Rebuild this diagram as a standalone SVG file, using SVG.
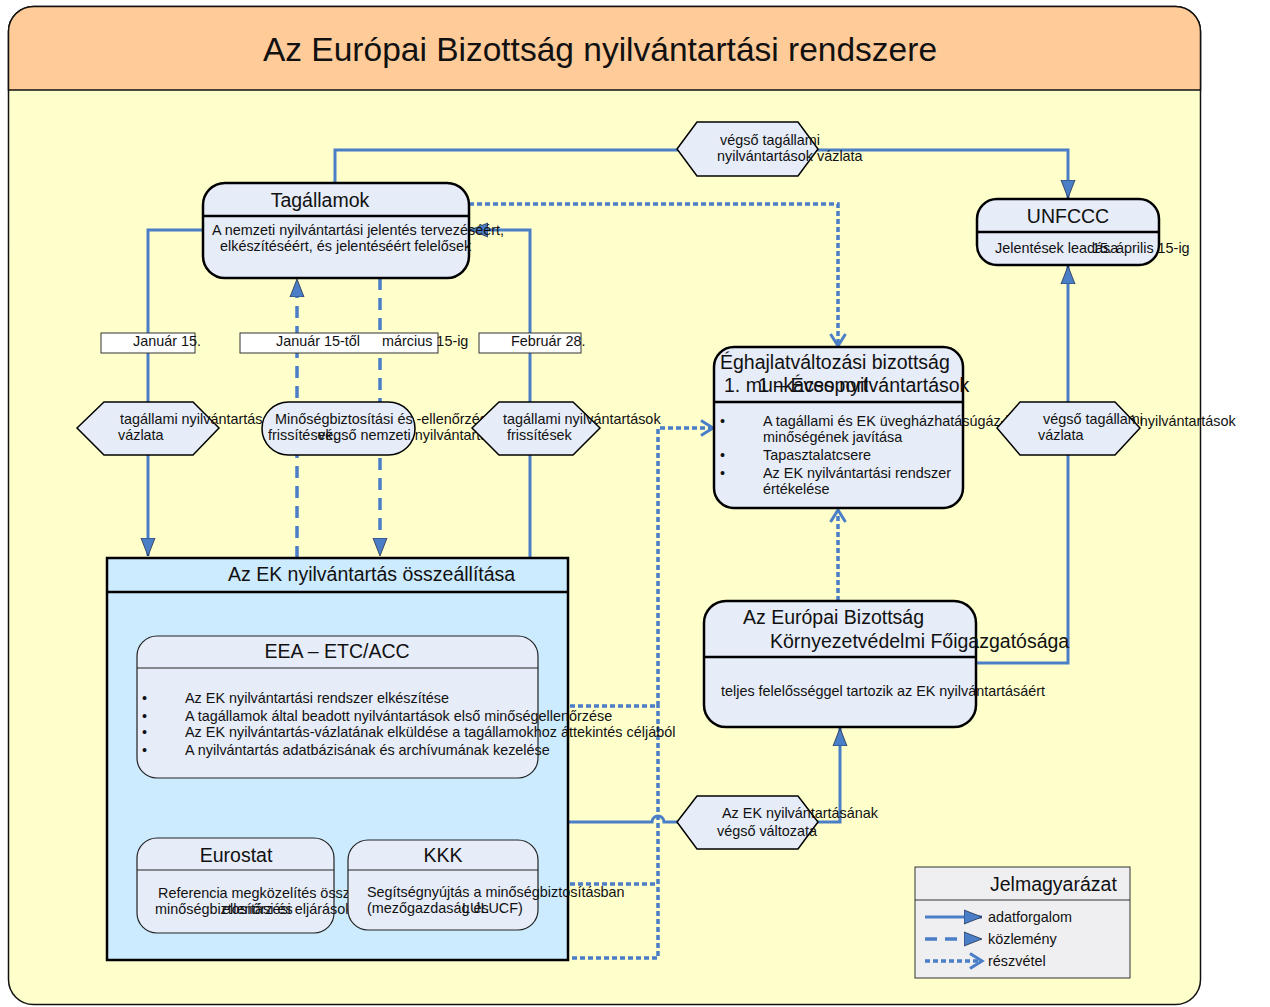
<svg xmlns="http://www.w3.org/2000/svg" width="1270" height="1007" viewBox="0 0 1270 1007">
<style>
text{font-family:"Liberation Sans",Arial,sans-serif;fill:#111}
.t13{font-size:14.4px}
.t18{font-size:19.5px}
.node{fill:#E6ECF8;stroke:#000;stroke-width:2.5}
.thin{fill:#E6ECF8;stroke:#222;stroke-width:1.2}
.div{stroke:#000;stroke-width:2.5}
.divt{stroke:#222;stroke-width:1.2}
.hex{fill:#E6ECF8;stroke:#000;stroke-width:1.5}
.lbl{fill:#fff;stroke:#333;stroke-width:1}
.solid{fill:none;stroke:#4A7EC7;stroke-width:3}
.dash{fill:none;stroke:#4A7EC7;stroke-width:3.5;stroke-dasharray:12 8}
.dot{fill:none;stroke:#4A7EC7;stroke-width:3.5;stroke-dasharray:5 3}
.bi{fill:none;stroke:#4A7EC7;stroke-width:1.8}
</style>
<defs>
<marker id="arr" markerUnits="userSpaceOnUse" markerWidth="20" markerHeight="16" refX="18" refY="8" orient="auto-start-reverse" viewBox="0 0 20 16">
<path d="M0,1 L18,8 L0,15 Z" fill="#4A7EC7" stroke="#1F3050" stroke-width="0.8"/>
</marker>
<marker id="arrs" markerUnits="userSpaceOnUse" markerWidth="18" markerHeight="14" refX="16" refY="7" orient="auto-start-reverse" viewBox="0 0 18 14">
<path d="M0,1 L16,7 L0,13 Z" fill="#4A7EC7" stroke="#1F3050" stroke-width="0.8"/>
</marker>
<marker id="chev" markerUnits="userSpaceOnUse" markerWidth="16" markerHeight="18" refX="13" refY="9" orient="auto" viewBox="0 0 16 18">
<path d="M1,1.5 L13,9 L1,16.5" fill="none" stroke="#4A7EC7" stroke-width="3"/>
</marker>
</defs>

<g id="frame">
<rect x="8.5" y="6.5" width="1192" height="998" rx="25" fill="#FFFFCC" stroke="#111" stroke-width="1.5"/>
<path d="M8.5,90 V31.5 A25,25 0 0 1 33.5,6.5 H1175.5 A25,25 0 0 1 1200.5,31.5 V90 Z" fill="#FFCB99" stroke="#111" stroke-width="1.5"/>
<text x="600" y="61" font-size="33.5" text-anchor="middle">Az Európai Bizottság nyilvántartási rendszere</text>
</g>

<g id="connectors">
<path class="solid" d="M335,183 V150 H1068 V198" marker-end="url(#arr)"/>
<path class="solid" d="M203,230 H148 V556" marker-end="url(#arr)"/>
<path class="dash" d="M297,558 V279" marker-end="url(#arr)"/>
<path class="dash" d="M380,278 V556" marker-end="url(#arr)"/>
<path class="solid" d="M530,558 V230 H470" marker-end="url(#arr)"/>
<path class="dot" d="M469,204 H838 V346" marker-end="url(#chev)"/>
<path class="dot" d="M838,601 V510" marker-end="url(#chev)"/>
<path class="dot" d="M538,706 H658 V428 H713" marker-end="url(#chev)"/>
<path class="dot" d="M237,933 V958 H658 V706"/>
<path class="dot" d="M538,884 H658"/>
<path class="solid" d="M568,822 H652 A6,6 0 0 1 664,822 H840 V728" marker-end="url(#arr)"/>
<path class="solid" d="M976,663 H1068 V266" marker-end="url(#arr)"/>
<path class="bi" d="M236,779 V837" marker-start="url(#arrs)" marker-end="url(#arrs)"/>
<path class="bi" d="M443,779 V837" marker-start="url(#arrs)" marker-end="url(#arrs)"/>
</g>

<g id="tagallamok">
<rect class="node" x="203" y="183" width="266" height="95" rx="22"/>
<line class="div" x1="203" y1="216" x2="469" y2="216"/>
<text class="t18" x="320" y="207" text-anchor="middle">Tagállamok</text>
<text class="t13" x="212" y="235">A nemzeti nyilvántartási jelentés tervezéséért,</text>
<text class="t13" x="220" y="251">elkészítéséért, és jelentéséért felelősek</text>
</g>

<g id="hex-top">
<polygon class="hex" points="677,149 697,122 798,122 818,149 798,176 697,176"/>
<text class="t13" x="720" y="145">végső tagállami</text>
<text class="t13" x="717" y="161">nyilvántartások vázlata</text>
</g>

<g id="unfccc">
<rect class="node" x="977" y="199" width="182" height="66" rx="20"/>
<line class="div" x1="977" y1="232" x2="1159" y2="232"/>
<text class="t18" x="1068" y="223" text-anchor="middle">UNFCCC</text>
<text class="t13" x="995" y="253">Jelentések leadása</text>
<text class="t13" x="1092" y="253">15. április 15-ig</text>
</g>

<g id="lbl-jan15">
<rect class="lbl" x="101" y="333" width="94" height="20"/>
<text class="t13" x="133" y="346">Január 15.</text>
</g>
<g id="lbl-jan-mar">
<rect class="lbl" x="240" y="333" width="198" height="20"/>
<text class="t13" x="276" y="346">Január 15-től</text>
<text class="t13" x="382" y="346">március 15-ig</text>
</g>
<g id="lbl-feb">
<rect class="lbl" x="479" y="333" width="102" height="20"/>
<text class="t13" x="511" y="346">Február 28.</text>
</g>

<g id="hex-left">
<polygon class="hex" points="77,428 104,402 193,402 219,428 193,455 104,455"/>
<text class="t13" x="120" y="424">tagállami nyilvántartás</text>
<text class="t13" x="118" y="440">vázlata</text>
</g>

<g id="pill-qa">
<rect class="hex" x="262" y="402" width="153" height="53" rx="26.5"/>
<text class="t13" x="275" y="424">Minőségbiztosítási és -ellenőrzési eljárások</text>
<text class="t13" x="268" y="440">frissítések,</text>
<text class="t13" x="318" y="440">végső nemzeti nyilvántartás vázlata</text>
</g>

<g id="hex-feb">
<polygon class="hex" points="472,428 499,402 573,402 600,428 573,455 499,455"/>
<text class="t13" x="503" y="424">tagállami nyilvántartások</text>
<text class="t13" x="507" y="440">frissítések</text>
</g>

<g id="eghajlat">
<rect class="node" x="714" y="347" width="249" height="161" rx="20"/>
<line class="div" x1="714" y1="402" x2="963" y2="402"/>
<text class="t18" x="720" y="369">Éghajlatváltozási bizottság</text>
<text class="t18" x="724" y="392">1. munkacsoport</text>
<text class="t18" x="758" y="392">1 – Éves nyilvántartások</text>
<text class="t13" x="720" y="426">•</text>
<text class="t13" x="763" y="426">A tagállami és EK üvegházhatásúgáz-kibocsátást kimutató nyilvántartások</text>
<text class="t13" x="763" y="442">minőségének javítása</text>
<text class="t13" x="720" y="460">•</text>
<text class="t13" x="763" y="460">Tapasztalatcsere</text>
<text class="t13" x="720" y="478">•</text>
<text class="t13" x="763" y="478">Az EK nyilvántartási rendszer</text>
<text class="t13" x="763" y="494">értékelése</text>
</g>

<g id="hex-right">
<polygon class="hex" points="997,428 1020,402 1115,402 1140,428 1115,455 1020,455"/>
<text class="t13" x="1043" y="424">végső tagállami</text>
<text class="t13" x="1038" y="440">vázlata</text>
</g>

<g id="ek-osszeallitas">
<rect x="107" y="558" width="461" height="402" fill="#CCEBFF" stroke="#000" stroke-width="2.5"/>
<line class="div" x1="107" y1="592" x2="568" y2="592"/>
<text class="t18" x="228" y="581">Az EK nyilvántartás összeállítása</text>
</g>

<g id="eea">
<rect class="thin" x="137" y="636" width="401" height="142" rx="20"/>
<line class="divt" x1="137" y1="668" x2="538" y2="668"/>
<text class="t18" x="337" y="658" text-anchor="middle">EEA – ETC/ACC</text>
<text class="t13" x="142" y="703">•</text>
<text class="t13" x="185" y="703">Az EK nyilvántartási rendszer elkészítése</text>
<text class="t13" x="142" y="721">•</text>
<text class="t13" x="185" y="721">A tagállamok által beadott  nyilvántartások első minőségellenőrzése</text>
<text class="t13" x="142" y="737">•</text>
<text class="t13" x="185" y="737">Az EK nyilvántartás-vázlatának elküldése a tagállamokhoz áttekintés céljából</text>
<text class="t13" x="142" y="755">•</text>
<text class="t13" x="185" y="755">A nyilvántartás adatbázisának és archívumának kezelése</text>
</g>

<g id="eurostat">
<rect class="thin" x="137" y="838" width="197" height="95" rx="20"/>
<line class="divt" x1="137" y1="870" x2="334" y2="870"/>
<text class="t18" x="236" y="862" text-anchor="middle">Eurostat</text>
<text class="t13" x="158" y="898">Referencia megközelítés összehasonlítása</text>
<text class="t13" x="155" y="914">minőségbiztosítási és</text>
<text class="t13" x="222" y="914">ellenőrzési eljárások</text>
</g>

<g id="kkk">
<rect class="thin" x="348" y="840" width="190" height="90" rx="20"/>
<line class="divt" x1="348" y1="870" x2="538" y2="870"/>
<text class="t18" x="443" y="862" text-anchor="middle">KKK</text>
<text class="t13" x="367" y="897">Segítségnyújtás a minőségbiztosításban</text>
<text class="t13" x="367" y="913">(mezőgazdaság és</text>
<text class="t13" x="462" y="913">LULUCF)</text>
</g>

<g id="hex-bottom">
<polygon class="hex" points="677,822 697,796 798,796 818,822 798,849 697,849"/>
<text class="t13" x="722" y="818">Az EK nyilvántartásának</text>
<text class="t13" x="717" y="836">végső változata</text>
</g>

<g id="dg-env">
<rect class="node" x="704" y="601" width="272" height="126" rx="22"/>
<line class="div" x1="704" y1="657" x2="976" y2="657"/>
<text class="t18" x="743" y="624">Az Európai Bizottság</text>
<text class="t18" x="770" y="648">Környezetvédelmi Főigazgatósága</text>
<text class="t13" x="721" y="696">teljes felelősséggel tartozik az EK nyilvántartásáért</text>
</g>

<g id="legend">
<rect x="915" y="867" width="215" height="111" fill="#EFEFF2" stroke="#333" stroke-width="1"/>
<line x1="915" y1="900" x2="1130" y2="900" stroke="#333" stroke-width="1"/>
<text class="t18" x="990" y="891">Jelmagyarázat</text>
<path class="solid" d="M925,917 H982" marker-end="url(#arr)"/>
<path class="dash" d="M925,939 H982" marker-end="url(#arr)"/>
<path class="dot" d="M925,961 H982" marker-end="url(#chev)"/>
<text class="t13" x="988" y="922">adatforgalom</text>
<text class="t13" x="988" y="944">közlemény</text>
<text class="t13" x="988" y="966">részvétel</text>
</g>
</svg>
